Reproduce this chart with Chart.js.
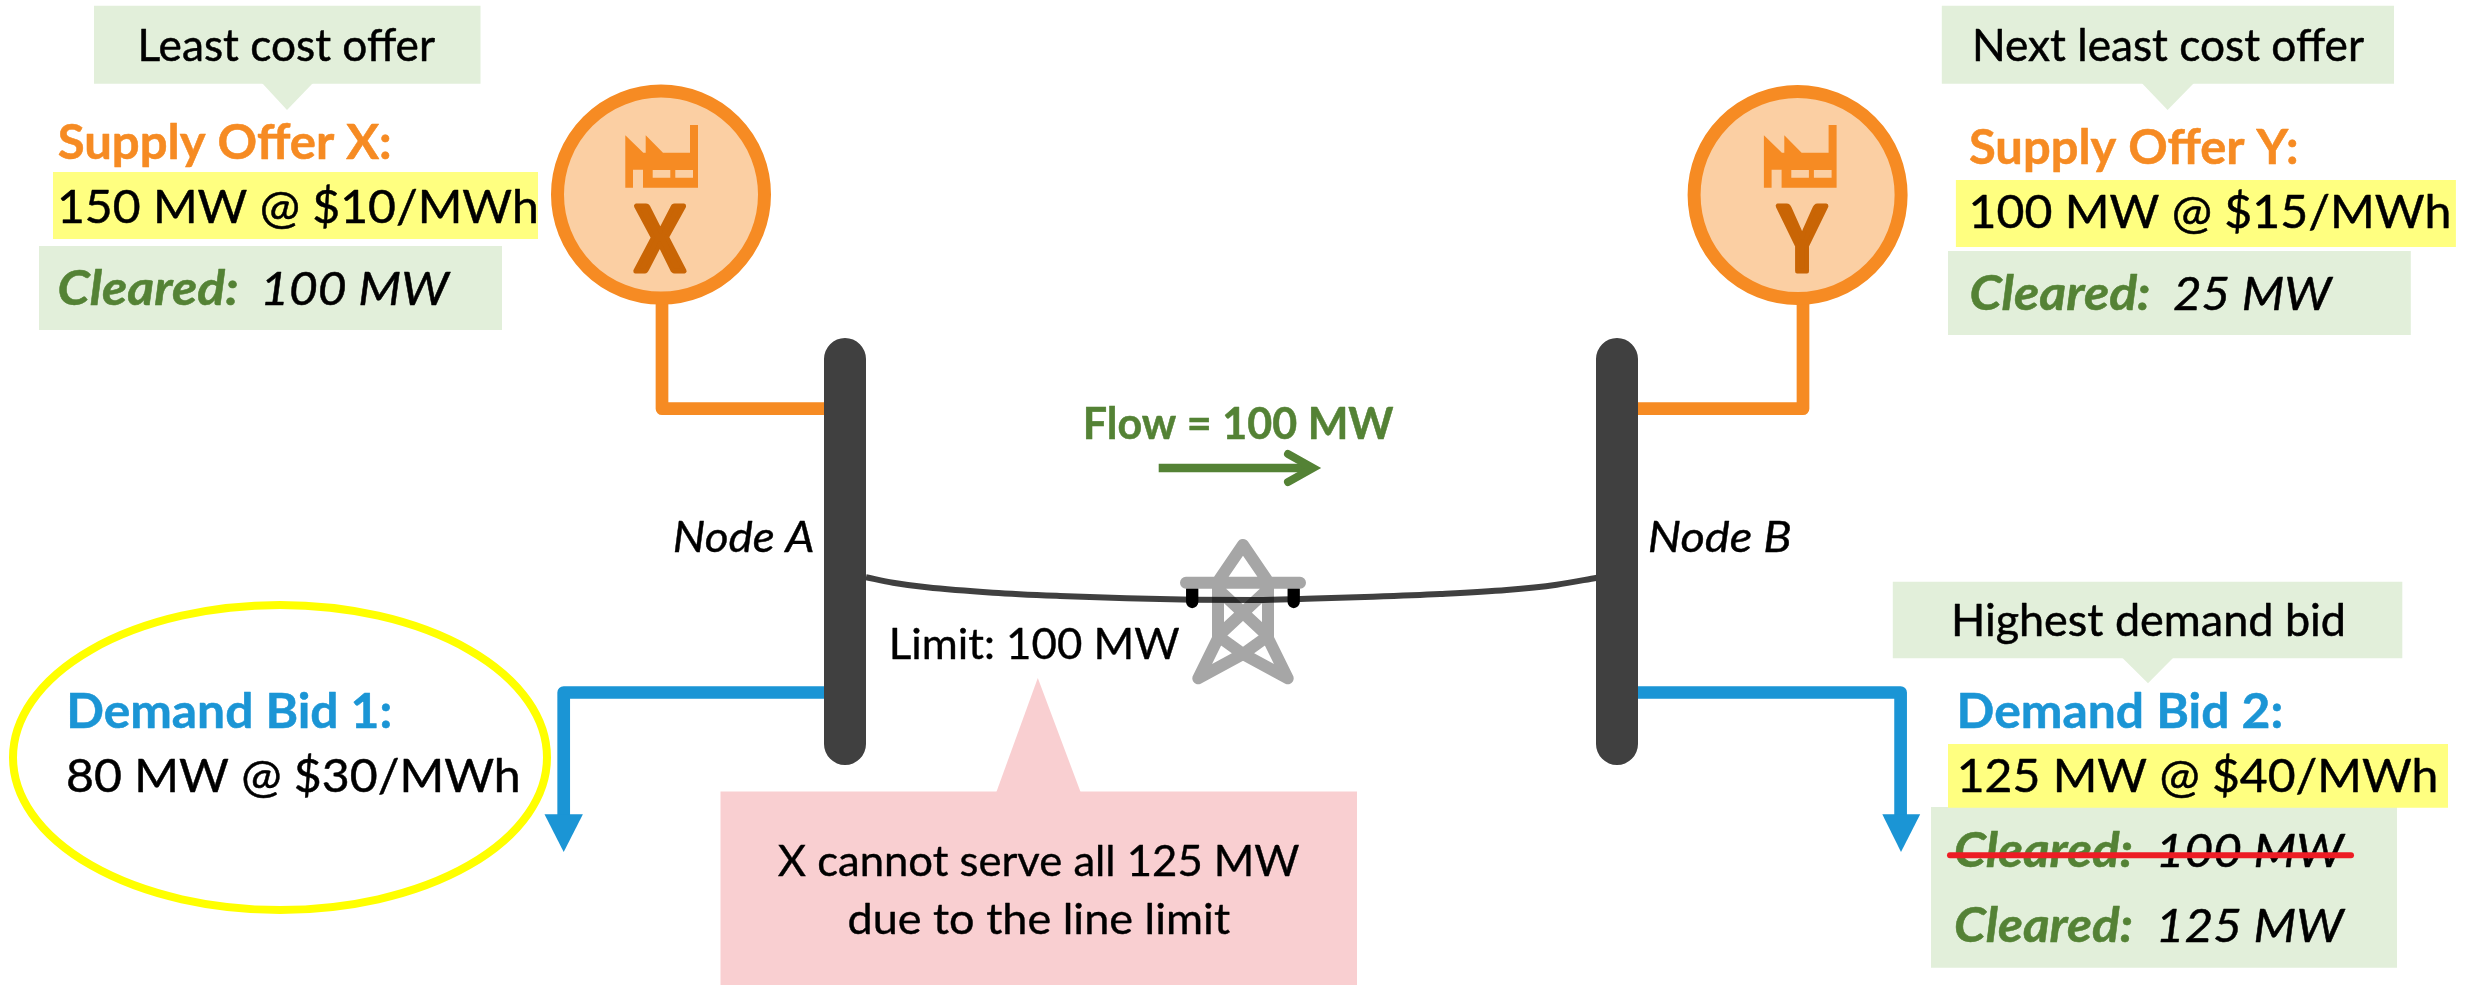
<!DOCTYPE html>
<html><head><meta charset="utf-8">
<style>html,body{margin:0;padding:0;background:#fff}canvas{display:block}</style>
<script src="https://cdn.jsdelivr.net/npm/chart.js@4/dist/chart.umd.min.js"></script>
</head><body><canvas id="c" width="2483" height="987"></canvas>
<script>
// ---- text of the diagram ----
const calloutTexts = ['Least cost offer', 'Next least cost offer', 'Highest demand bid'];
const offerTitles = ['Supply Offer X:', 'Supply Offer Y:', 'Demand Bid 1:', 'Demand Bid 2:'];
const offerValues = ['150 MW @ $10/MWh', '100 MW @ $15/MWh', '80 MW @ $30/MWh', '125 MW @ $40/MWh'];
const clearedLabel = 'Cleared:';
const clearedValues = ['100 MW', '25 MW', '100 MW', '125 MW'];
const nodeNames = ['Node A', 'Node B'];
const generatorNames = ['X', 'Y'];
const flowText = 'Flow = 100 MW';
const limitText = 'Limit: 100 MW';
const noteLines = ['X cannot serve all 125 MW', 'due to the line limit'];

// ---- geometry, in picture units ----
const busA = [[845, 359], [845, 744]];
const busB = [[1617, 359], [1617, 744]];
const wireSupplyA = [[662, 300], [662, 408.7], [830, 408.7]];
const wireSupplyB = [[1803, 300], [1803, 408.7], [1630, 408.7]];
const wireDemandA = [[830, 692.5], [563.7, 692.5], [563.7, 816]];
const wireDemandB = [[1630, 692.5], [1900.6, 692.5], [1900.6, 816]];
const headDemandA = [[544.5, 814.3], [582.9, 814.3], [563.7, 852]];
const headDemandB = [[1882.3, 814.3], [1920.2, 814.3], [1901, 852]];
const transmissionLine = [[866, 577.3], [893, 582.7], [926.7, 587.3], [993, 592.7], [1060, 596], [1126.7, 598.3], [1193, 599.7], [1256.7, 600], [1306.7, 598.7], [1373, 596.7], [1440, 594], [1506.7, 590], [1556.7, 584.7], [1597, 577.7]];
const insulatorLeft = [[1192.2, 589], [1192.2, 602]];
const insulatorRight = [[1293.7, 589], [1293.7, 602]];
const towerFrame = [
  [1198.3, 678.3], [1218, 638.3], [1218, 581.7], [1243, 545], [1268, 581.7], [1268, 638.3], [1287.7, 678.3], [null, null],
  [1186, 582.7], [1300, 582.7], [null, null],
  [1218, 589.3], [1268, 636], [null, null],
  [1268, 589.3], [1218, 636], [1243, 654], [1268, 636], [null, null],
  [1198.3, 678.3], [1243, 654], [1287.7, 678.3]
];
const flowShaft = [[1158.7, 468], [1308, 468]];
const flowHead = [[1288, 454], [1313, 468], [1288, 482]];
const strike = [[1950, 855.3], [2351, 855.3]];
const generatorCentres = [[661, 194.6], [1797.6, 195]];
const factoryX = [[625.3, 135.3], [643.3, 152.7], [645.7, 152.7], [645.7, 135.3], [663, 152.7], [690, 152.7], [690, 125], [698, 125], [698, 187.7], [643, 187.7], [643, 169.7], [633, 169.7], [633, 187.7], [625.3, 187.7]];
const factoryWindowsX = [[[652.7, 170], [670.3, 170], [670.3, 177.7], [652.7, 177.7]], [[675.3, 170], [693, 170], [693, 177.7], [675.3, 177.7]]];
const factoryShift = 1138.6;

const rects = {
  calloutX: [94, 5.7, 480.5, 83.7], calloutY: [1941.8, 5.7, 2394, 83.7], calloutD: [1892.8, 581.7, 2402.3, 658.3],
  highlightX: [53, 172, 538, 239], highlightY: [1955.9, 180, 2455.9, 247], highlightD: [1948, 744, 2448, 807.7],
  clearedX: [39, 246, 502, 330], clearedY: [1948, 251, 2410.8, 335], clearedD: [1931, 807, 2397, 967.7],
  note: [720.5, 791.5, 1357, 985]
};
const tails = {
  calloutX: [[262, 83], [313, 83], [287, 110]], calloutY: [[2141.7, 83], [2194, 83], [2167.6, 110]],
  calloutD: [[2122.5, 658], [2173, 658], [2148, 683.3]], note: [[996.4, 792], [1080.6, 792], [1037.8, 678]]
};
const bidEllipse = {cx: 280, cy: 757.5, rx: 267, ry: 152.5};

const C = {orange: '#F68B23', peach: '#FBCFA3', rust: '#C96505', green: '#548235', paleGreen: '#E2EFDA', yellow: '#FFFF80',
  blue: '#1B95D5', dark: '#404040', pink: '#F9CFD1', grey: '#A6A6A6', red: '#ED1C24', black: '#000'};

const pts = a => a.map(p => ({x: p[0], y: p[1]}));
const box = r => [[r[0], r[1]], [r[2], r[1]], [r[2], r[3]], [r[0], r[3]]];
function stroke(a, color, width, cap, join) {
  return {data: pts(a), showLine: true, pointRadius: 0, borderColor: color, borderWidth: width, fill: false,
    borderCapStyle: cap || 'butt', borderJoinStyle: join || 'round', tension: 0, spanGaps: false};
}
function solid(a, color) {
  return {data: pts(a), showLine: true, pointRadius: 0, borderColor: 'transparent', borderWidth: 0, backgroundColor: color, fill: 'shape', tension: 0};
}
function disc(p) {
  return {data: pts([p]), showLine: false, pointRadius: 103.5, pointBorderWidth: 13, pointBorderColor: C.orange, pointBackgroundColor: C.peach};
}
const shift = (a, d) => a.map(p => [p[0] + d, p[1]]);

const datasets = [
  solid(box(rects.calloutX), C.paleGreen), solid(tails.calloutX, C.paleGreen),
  solid(box(rects.calloutY), C.paleGreen), solid(tails.calloutY, C.paleGreen),
  solid(box(rects.calloutD), C.paleGreen), solid(tails.calloutD, C.paleGreen),
  solid(box(rects.clearedX), C.paleGreen), solid(box(rects.clearedY), C.paleGreen), solid(box(rects.clearedD), C.paleGreen),
  solid(box(rects.highlightX), C.yellow), solid(box(rects.highlightY), C.yellow), solid(box(rects.highlightD), C.yellow),
  solid(box(rects.note), C.pink), solid(tails.note, C.pink),
  stroke(wireSupplyA, C.orange, 12.7), stroke(wireSupplyB, C.orange, 12.7),
  stroke(wireDemandA, C.blue, 12.7), stroke(wireDemandB, C.blue, 12.7),
  solid(headDemandA, C.blue), solid(headDemandB, C.blue),
  disc(generatorCentres[0]), disc(generatorCentres[1]),
  solid(factoryX, C.orange), solid(factoryWindowsX[0], C.peach), solid(factoryWindowsX[1], C.peach),
  solid(shift(factoryX, factoryShift), C.orange), solid(shift(factoryWindowsX[0], factoryShift), C.peach), solid(shift(factoryWindowsX[1], factoryShift), C.peach),
  stroke(insulatorLeft, C.black, 12.3, 'round'), stroke(insulatorRight, C.black, 12.3, 'round'),
  stroke(towerFrame, C.grey, 12, 'round'),
  Object.assign(stroke(transmissionLine, 'rgba(0,0,0,0.75)', 6), {cubicInterpolationMode: 'monotone'}),
  stroke(busA, C.dark, 42, 'round'), stroke(busB, C.dark, 42, 'round'),
  stroke(flowShaft, C.green, 8.5), stroke(flowHead, C.green, 8, 'round', 'miter'),
  stroke(strike, C.red, 6, 'round')
];
datasets.forEach((d, i) => { d.order = -i; });
const strikeIndex = datasets.length - 1;

const FONT = 'Lato';
// [text, ink left, ink right, baseline, size, weight/style, colour, extra outline]
const textRows = [
  [calloutTexts[0], 141.5, 435, 61, 44, '', C.black, 0.5],
  [calloutTexts[1], 1976, 2364, 61, 44, '', C.black, 0.5],
  [calloutTexts[2], 1955, 2343.3, 636, 44, '', C.black, 0.5],
  [offerTitles[0], 58.7, 389.5, 158.7, 47, 'bold', C.orange, 0.5],
  [offerTitles[1], 1970, 2296.5, 163.7, 47, 'bold', C.orange, 0.5],
  [offerTitles[2], 69.4, 390, 727.7, 47, 'bold', C.blue, 0.5],
  [offerTitles[3], 1959.8, 2281, 727.7, 47, 'bold', C.blue, 0.5],
  [offerValues[0], 60, 536.5, 222.7, 47, '', C.black, 0.5],
  [offerValues[1], 1971.6, 2449, 228, 47, '', C.black, 0.5],
  [offerValues[2], 68, 518.4, 792.3, 47, '', C.black, 0.5],
  [offerValues[3], 1959.8, 2436, 792.3, 47, '', C.black, 0.5],
  [clearedLabel, 58.7, 237, 304.7, 48, 'italic bold', C.green, 0.5],
  [clearedValues[0], 264.4, 451, 304.7, 47, 'italic', C.black, 0.5],
  [clearedLabel, 1970.5, 2149, 310, 48, 'italic bold', C.green, 0.5],
  [clearedValues[1], 2174, 2333.7, 310, 47, 'italic', C.black, 0.5],
  [clearedLabel, 1955, 2131.4, 867, 48, 'italic bold', C.green, 0.5],
  [clearedValues[2], 2160, 2345.8, 867, 47, 'italic', C.black, 0.5],
  [clearedLabel, 1955, 2131.4, 942.3, 48, 'italic bold', C.green, 0.5],
  [clearedValues[3], 2160, 2345.8, 942.3, 47, 'italic', C.black, 0.5],
  [nodeNames[0], 675, 812.7, 552, 42, 'italic', C.black, 0.4],
  [nodeNames[1], 1650, 1790, 552, 42, 'italic', C.black, 0.4],
  [generatorNames[0], 635.2, 685.2, 271.2, 90, 'bold', C.rust, 5],
  [generatorNames[1], 1777.5, 1826.5, 271.2, 90, 'bold', C.rust, 5],
  [flowText, 1085.7, 1393.4, 438.5, 43, 'bold', C.green, 0.5],
  [limitText, 891.8, 1179, 659, 42, '', C.black, 0.4],
  [noteLines[0], 777.7, 1299, 876.3, 43, '', C.black, 0.4],
  [noteLines[1], 848.5, 1229.6, 934.4, 43, '', C.black, 0.4]
];

const diagram = {
  id: 'diagram',
  beforeDatasetsDraw(chart) {
    const {ctx, scales: {x, y}} = chart, e = bidEllipse;
    const cx = x.getPixelForValue(e.cx), cy = y.getPixelForValue(e.cy);
    ctx.save(); ctx.beginPath();
    ctx.ellipse(cx, cy, e.rx, e.ry, 0, 0, Math.PI * 2);
    ctx.lineWidth = 8; ctx.strokeStyle = '#FFFF00'; ctx.stroke(); ctx.restore();
  },
  beforeDatasetDraw(chart, args) {
    if (args.index !== strikeIndex) return;
    const {ctx, scales: {x, y}} = chart;
    textRows.forEach(([t, x0, x1, base, size, style, color, outline]) => {
      ctx.save();
      ctx.font = `${style} ${size}px ${FONT}`.trim();
      ctx.fillStyle = color; ctx.strokeStyle = color; ctx.lineWidth = outline; ctx.lineJoin = 'round';
      ctx.textAlign = 'left'; ctx.textBaseline = 'alphabetic';
      const m = ctx.measureText(t);
      const ink = m.actualBoundingBoxLeft + m.actualBoundingBoxRight;
      const px0 = x.getPixelForValue(x0), px1 = x.getPixelForValue(x1);
      const sx = (px1 - px0) / ink;
      ctx.translate(px0, y.getPixelForValue(base));
      ctx.scale(sx, 1);
      ctx.fillText(t, m.actualBoundingBoxLeft, 0);
      ctx.strokeText(t, m.actualBoundingBoxLeft, 0);
      ctx.restore();
    });
  }
};

new Chart(document.getElementById('c'), {
  type: 'scatter',
  data: {datasets},
  plugins: [diagram],
  options: {
    responsive: false, animation: false, events: [],
    layout: {padding: 0, autoPadding: false},
    plugins: {legend: {display: false}, tooltip: {enabled: false}, title: {display: false}},
    scales: {
      x: {type: 'linear', min: 0, max: 2483, display: false},
      y: {type: 'linear', min: 0, max: 987, reverse: true, display: false}
    }
  }
});
</script></body></html>
